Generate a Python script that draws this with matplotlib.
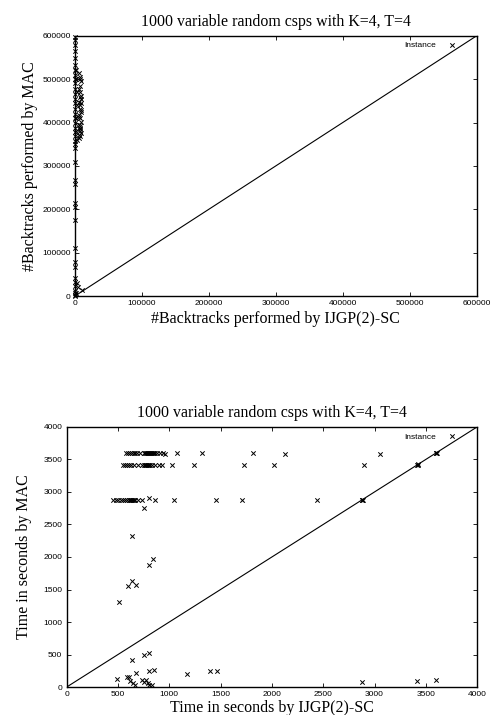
import numpy as np
import matplotlib
matplotlib.use("Agg")
import matplotlib.pyplot as plt

title = "1000 variable random csps with K=4, T=4"

# top chart: backtracks
bt_ticks = [0, 100000, 200000, 300000, 400000, 500000, 600000]
bt_x = [500, 500, 500, 500, 500, 500, 500, 500, 500, 500,
        500, 500, 500, 500, 500, 500, 500, 500, 500, 500,
        500, 500, 500, 500, 500, 500, 500, 500, 500, 500,
        500, 500, 500, 500, 500, 500, 500, 500, 500, 500,
        1500, 2000, 2500, 3000, 1800, 2200, 2600,
        6000, 7500, 9000, 8000, 6500, 7000, 8500, 9500, 6000, 7000,
        8000, 9000, 6500, 7500, 8500, 6000, 7000, 8000, 9000, 7500,
        6500, 8000, 7000, 8500, 6000, 9000, 7500, 5500, 8000,
        10000, 5000, 3000, 2000]
bt_y = [598000, 590000, 578000, 565000, 548000, 532000, 520000, 510000, 500000, 490000,
        478000, 465000, 455000, 445000, 432000, 420000, 410000, 398000, 388000, 378000,
        368000, 358000, 350000, 342000, 310000, 268000, 258000, 215000, 205000, 175000,
        110000, 78000, 68000, 42000, 32000, 22000, 12000, 6000, 2000, 0,
        520000, 500000, 470000, 440000, 410000, 380000, 360000,
        515000, 505000, 495000, 485000, 478000, 470000, 462000, 455000, 448000, 440000,
        432000, 425000, 418000, 410000, 402000, 395000, 388000, 380000, 375000, 370000,
        365000, 392000, 458000, 445000, 412000, 428000, 385000, 372000, 500000,
        15000, 20000, 30000, 8000]

# bottom chart: time in seconds
t_ticks = [0, 500, 1000, 1500, 2000, 2500, 3000, 3500, 4000]
t_x = [580, 600, 620, 640, 655, 670, 690, 720, 750, 760, 770, 780, 790, 800, 810,
       820, 830, 840, 850, 860, 880, 910, 940, 960, 1075, 1315, 1820, 2130, 3050,
       545, 570, 590, 610, 630, 660, 700, 730, 750, 760, 770, 780, 790, 800, 810,
       830, 860, 900, 930, 1025, 1245, 1730, 2025, 2900,
       455, 480, 505, 530, 550, 570, 590, 605, 620, 630, 640, 650, 660, 670, 700,
       730, 800, 860, 1050, 1455, 1705, 2442,
       758, 634, 845, 803, 637, 602, 676, 510,
       637, 758, 800, 800, 849, 494, 585, 611, 621, 650, 676, 667, 738, 758, 774,
       790, 806, 832, 1174, 1398, 1470,
       2878, 2885, 2880, 3421, 3425, 3418, 3600, 3605, 3598,
       2878, 3418, 3600]
t_y = [3600, 3600, 3600, 3600, 3600, 3600, 3600, 3600, 3600, 3600, 3600, 3600, 3600, 3600, 3600,
       3600, 3600, 3600, 3600, 3600, 3600, 3600, 3600, 3590, 3600, 3600, 3595, 3590, 3590,
       3420, 3420, 3420, 3420, 3420, 3420, 3420, 3420, 3420, 3420, 3420, 3420, 3420, 3420, 3420,
       3420, 3420, 3410, 3410, 3420, 3415, 3415, 3410, 3415,
       2880, 2880, 2880, 2880, 2880, 2880, 2880, 2880, 2880, 2880, 2880, 2880, 2880, 2880, 2880,
       2880, 2900, 2880, 2875, 2875, 2870, 2870,
       2755, 2321, 1974, 1877, 1633, 1556, 1577, 1311,
       418, 495, 520, 255, 270, 122, 153, 163, 87, 61, 214, 25, 112, 71, 112,
       66, 36, 36, 199, 240, 250,
       2878, 2882, 2875, 3419, 3422, 3415, 3600, 3602, 3597,
       72, 98, 108]


def style_axes(ax, ticks, xlabel, ylabel, xlabelpad, ylabelpad, legend_dx):
    ax.set_xlim(ticks[0], ticks[-1])
    ax.set_ylim(ticks[0], ticks[-1])
    ax.set_xticks(ticks)
    ax.set_yticks(ticks)
    ax.tick_params(direction='in', top=True, right=True, length=3, width=0.6,
                   labelsize=6, pad=3)
    for lab in ax.get_xticklabels() + ax.get_yticklabels():
        lab.set_fontfamily('Liberation Sans')
    for s in ax.spines.values():
        s.set_linewidth(1.0)
    ax.plot(ticks[:1] + ticks[-1:], ticks[:1] + ticks[-1:], color='black', linewidth=0.8)
    ax.set_title(title, fontsize=11.4, family='Liberation Serif', pad=7)
    ax.set_xlabel(xlabel, fontsize=11.5, family='Liberation Serif', labelpad=xlabelpad)
    ax.set_ylabel(ylabel, fontsize=11.5, family='Liberation Serif', labelpad=ylabelpad)
    leg = ax.legend(loc='upper right', frameon=False, markerfirst=False,
                    prop={'family': 'Liberation Sans', 'size': 6},
                    handlelength=1.0, handletextpad=1.4, borderaxespad=0.3,
                    bbox_to_anchor=(1 - legend_dx, 1))
    return leg


fig = plt.figure(figsize=(4.93, 7.15), dpi=100)

ax1 = fig.add_axes([0.152, 0.586, 0.815, 0.364])
ax1.scatter(bt_x, bt_y, marker='x', s=10, color='black', linewidths=0.7, label='Instance', clip_on=False)
style_axes(ax1, bt_ticks, '#Backtracks performed by IJGP(2)-SC', '#Backtracks performed by MAC', 3, 3, 0.037)

ax2 = fig.add_axes([0.135, 0.039, 0.833, 0.364])
ax2.scatter(t_x, t_y, marker='x', s=10, color='black', linewidths=0.7, label='Instance', clip_on=False)
style_axes(ax2, t_ticks, 'Time in seconds by IJGP(2)-SC', 'Time in seconds by MAC', 1.5, 8, 0.037)

plt.savefig('out.png', dpi=100)
